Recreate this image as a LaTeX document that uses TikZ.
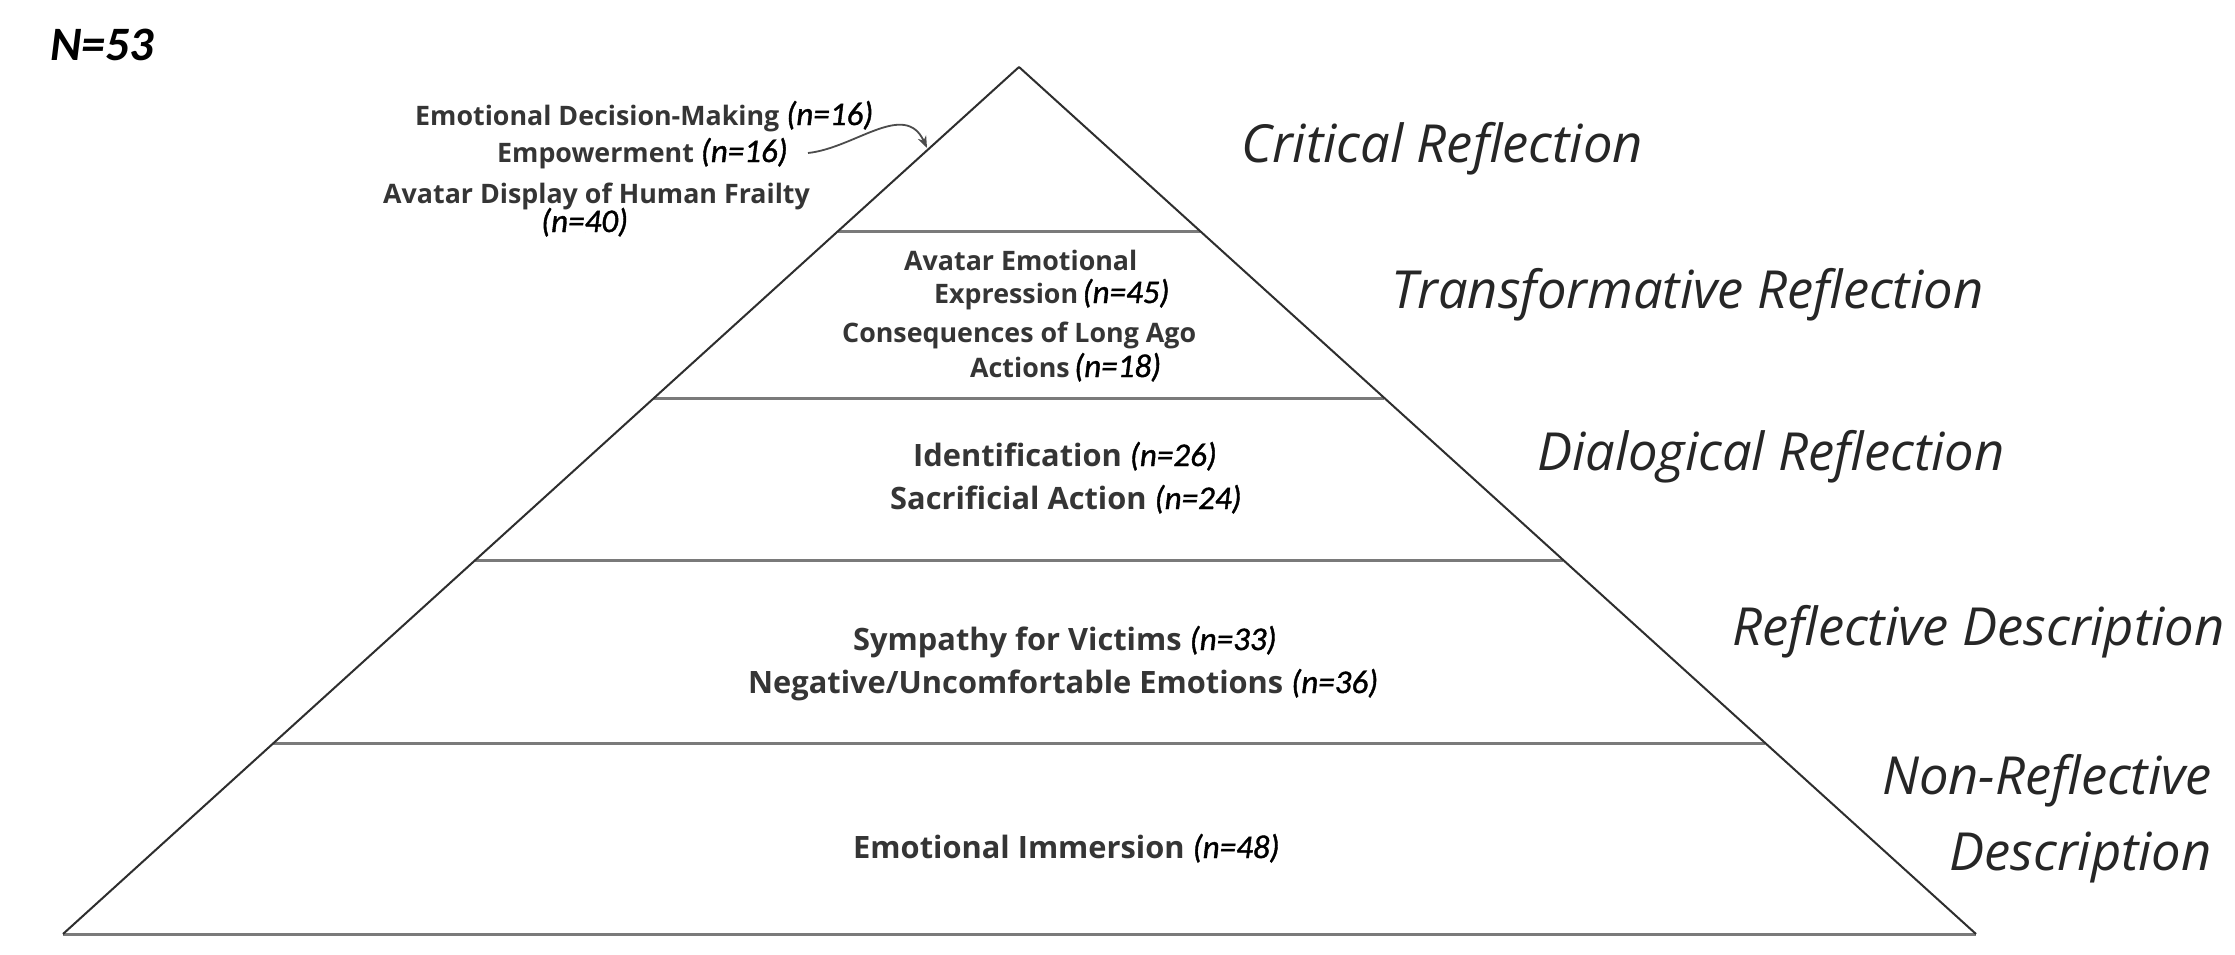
\documentclass[tikz,border=0pt]{standalone}
\usepackage{fontspec}
\setmainfont{Open Sans}
\newfontfamily\levelfont{Open Sans}
\newfontfamily\countfont[ItalicFeatures={FakeBold=1.2}]{Carlito}
\usetikzlibrary{arrows.meta}

\definecolor{labelgray}{HTML}{353535}
\definecolor{sidegray}{HTML}{2E2E2E}
\definecolor{bandgray}{HTML}{7A7A7A}

% n-counts set in Carlito italic
\newcommand{\cnt}[1]{{\countfont\mdseries\itshape\fontsize{33}{36}\selectfont\color{black}#1}}

\tikzset{
  lbl/.style={anchor=base west, inner sep=0pt, text=labelgray,
    font=\fontsize{26.8}{32}\selectfont\bfseries},
  biglbl/.style={lbl, font=\fontsize{30.8}{36}\selectfont\bfseries},
  lvl/.style={anchor=base west, inner sep=0pt, text=black!85,
    font=\fontsize{52.5}{62}\selectfont\levelfont\itshape},
  side/.style={draw=sidegray, line width=2pt, line join=round},
  band/.style={draw=bandgray, line width=3pt},
}

\begin{document}
\begin{tikzpicture}[x=1pt, y=-1pt]
\useasboundingbox[fill=white] (0,0) rectangle (2235,954);

% pyramid corners
\coordinate (apex) at (1019,67);
\coordinate (bl) at (63,934);
\coordinate (br) at (1976,934);

% band dividers
\draw[band] (838,231) -- (1200,231);
\draw[band] (654,398) -- (1384,398);
\draw[band] (475,560) -- (1563,560);
\draw[band] (273,743) -- (1765,743);
\draw[band] (bl) -- (br);

% sides
\draw[side] (bl) -- (apex) -- (br);

% sample size
\node[anchor=base west, inner sep=0pt,
  font=\fontsize{48}{56}\selectfont\countfont\bfseries\itshape] (N) at (50,60) {N=53};

% top tier, labelled outside
\node[lbl] (edm) at (415,125) {Emotional Decision-Making \cnt{(n=16)}};
\node[lbl] (emp) at (497,162) {Empowerment \cnt{(n=16)}};
\node[lbl] (adh) at (383,203) {Avatar Display of Human Frailty};
\node[lbl] (adhn) at (541,232) {\cnt{(n=40)}};
\coordinate (arrstart) at (808,153);
\coordinate (tiptop) at (927,148);
\draw[draw=black!70, line width=1.8pt, -{Stealth[length=12pt,width=9pt]}]
  (arrstart) .. controls (855,148) and (905,100) .. (tiptop);

% second tier
\node[lbl] (aee1) at (904,270) {Avatar Emotional};
\node[lbl] (aee2) at (934,303) {Expression\,\cnt{(n=45)}};
\node[lbl] (cla1) at (842,342) {Consequences of Long Ago};
\node[lbl] (cla2) at (970,377) {Actions\,\cnt{(n=18)}};

% third tier
\node[biglbl] (idf) at (913,466) {Identification \cnt{(n=26)}};
\node[biglbl] (sac) at (890,509) {Sacrificial Action \cnt{(n=24)}};

% fourth tier
\node[biglbl] (sym) at (853,650) {Sympathy for Victims \cnt{(n=33)}};
\node[biglbl] (neg) at (748,693) {Negative/Uncomfortable Emotions \cnt{(n=36)}};

% base tier
\node[biglbl] (imm) at (853,858) {Emotional Immersion \cnt{(n=48)}};

% level names
\node[lvl] (crit) at (1241,162) {Critical Reflection};
\node[lvl] (trans) at (1391,308) {Transformative Reflection};
\node[lvl] (dial) at (1537,470) {Dialogical Reflection};
\node[lvl] (refl) at (1732,645) {Reflective Description};
\node[lvl, anchor=base east] (nonr1) at (2212,794) {Non-Reflective};
\node[lvl, anchor=base east] (nonr2) at (2212,870) {Description};
\end{tikzpicture}
\end{document}
